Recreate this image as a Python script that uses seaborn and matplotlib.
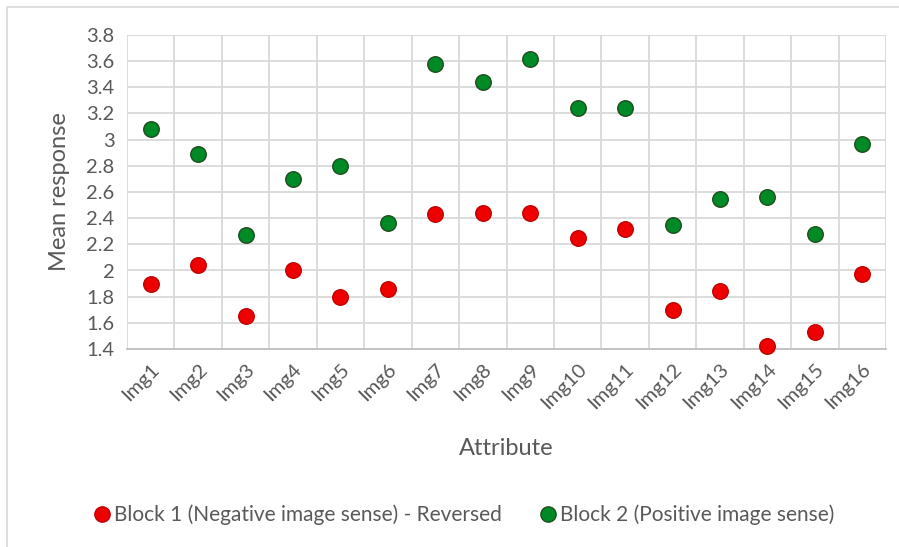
import matplotlib
matplotlib.use("Agg")
import matplotlib.pyplot as plt
from matplotlib.patches import Rectangle
from matplotlib.lines import Line2D
import seaborn as sns
import pandas as pd

images = [f"Img{i}" for i in range(1, 17)]
block1 = [1.90, 2.04, 1.65, 2.00, 1.80, 1.86, 2.43, 2.44, 2.44, 2.25, 2.32, 1.70, 1.84, 1.42, 1.53, 1.97]
block2 = [3.08, 2.89, 2.27, 2.70, 2.80, 2.36, 3.58, 3.44, 3.62, 3.24, 3.24, 2.35, 2.55, 2.56, 2.28, 2.97]
series_names = ["Block 1 (Negative image sense) - Reversed", "Block 2 (Positive image sense)"]
y_ticks = [1.4, 1.6, 1.8, 2.0, 2.2, 2.4, 2.6, 2.8, 3.0, 3.2, 3.4, 3.6, 3.8]
y_tick_labels = ["1.4", "1.6", "1.8", "2", "2.2", "2.4", "2.6", "2.8", "3", "3.2", "3.4", "3.6", "3.8"]

df = pd.DataFrame({
    "Attribute": images * 2,
    "Mean response": block1 + block2,
    "Series": [series_names[0]] * len(images) + [series_names[1]] * len(images),
})
df["pos"] = df["Attribute"].map({name: i for i, name in enumerate(images)})

sns.set_theme(style="white")
plt.rcParams["font.family"] = ["Lato", "DejaVu Sans"]
text_color = "#595959"
grid_color = "#d9d9d9"

fig = plt.figure(figsize=(8.99, 5.47), dpi=100)
ax = fig.add_axes([127 / 899, 1 - 349 / 547, (886 - 127) / 899, (349 - 35) / 547])

# chart-area frame
fig.patches.append(Rectangle((7 / 899, -0.1), 1.2, 1 - 7 / 547 + 0.1, transform=fig.transFigure,
                             fill=False, edgecolor="#d9d9d9", linewidth=1.2, zorder=0))

fill_colors = {series_names[0]: "#ee0000", series_names[1]: "#008a25"}
edge_colors = {series_names[0]: "#c00000", series_names[1]: "#1f4e1f"}

for name in series_names:
    sub = df[df["Series"] == name]
    sns.scatterplot(data=sub, x="pos", y="Mean response", ax=ax, color=fill_colors[name],
                    edgecolor=edge_colors[name], linewidth=1.0, s=125, zorder=3,
                    legend=False, clip_on=False)

ax.set_xlim(-0.5, len(images) - 0.5)
ax.set_ylim(1.4, 3.8)
ax.set_xticks(range(len(images)))
ax.set_xticklabels(images, rotation=45, ha="right", rotation_mode="anchor",
                   color=text_color, fontsize=14.5)
ax.set_xticks([i - 0.5 for i in range(len(images) + 1)], minor=True)
ax.set_yticks(y_ticks)
ax.set_yticklabels(y_tick_labels, color=text_color, fontsize=14.5)
ax.tick_params(axis="both", which="both", length=0)
ax.tick_params(axis="x", which="major", pad=8)
ax.tick_params(axis="y", pad=9)
ax.grid(True, axis="y", color=grid_color, linewidth=1.3)
ax.grid(True, axis="x", which="minor", color=grid_color, linewidth=1.3)
ax.grid(False, axis="x", which="major")
for side in ["top", "right", "left"]:
    ax.spines[side].set_visible(False)
ax.spines["bottom"].set_color("#bfbfbf")
ax.spines["bottom"].set_linewidth(1.3)
ax.set_axisbelow(True)

ax.set_xlabel("Attribute", color=text_color, fontsize=17, labelpad=19)
ax.set_ylabel("Mean response", color=text_color, fontsize=17, labelpad=12)

handles = [Line2D([0], [0], marker="o", linestyle="none", markersize=11,
                  markerfacecolor=fill_colors[n], markeredgecolor=edge_colors[n],
                  markeredgewidth=1.0, label=n) for n in series_names]
fig.legend(handles=handles, loc="center", bbox_to_anchor=(463 / 899, 1 - 515 / 547),
           ncol=2, frameon=False, fontsize=15, labelcolor=text_color,
           handletextpad=0.1, columnspacing=1.7, handlelength=1.0)

fig.savefig("out.png", dpi=100)
